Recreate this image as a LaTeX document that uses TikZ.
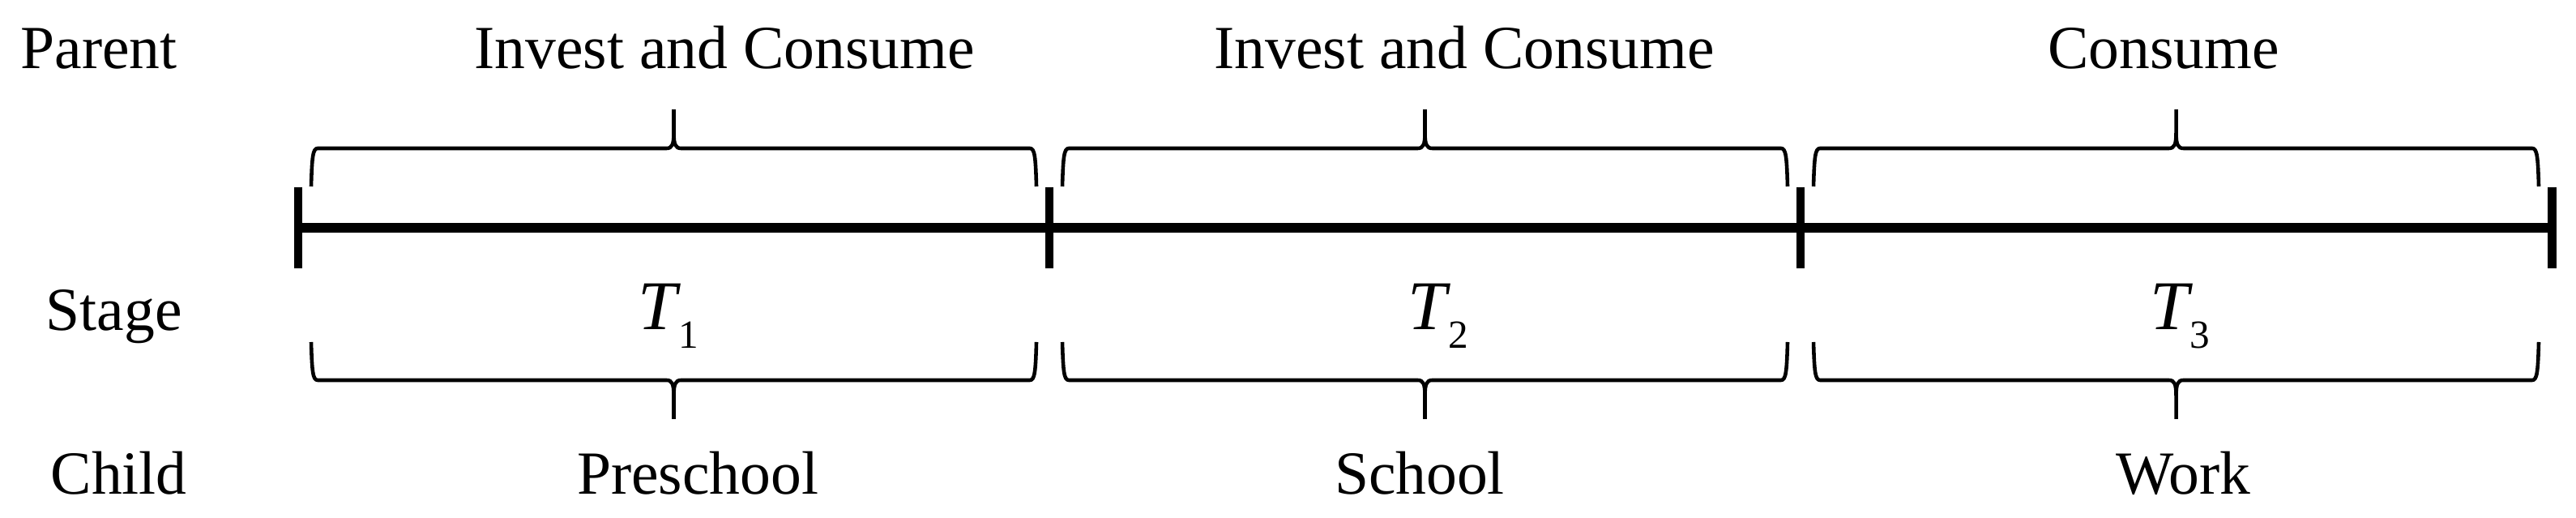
\documentclass[tikz,border=0pt]{standalone}
\usepackage{fontspec}
\setmainfont{Liberation Serif}
\usepackage{tikz}
\usetikzlibrary{positioning}
\tikzset{
  rowlabel/.style={anchor=base west,inner sep=0pt,font=\fontsize{21.5}{26}\selectfont},
  phaselabel/.style={anchor=base,inner sep=0pt,font=\fontsize{21.5}{26}\selectfont},
  stagelabel/.style={anchor=base,inner sep=0pt,font=\fontsize{24.5}{29}\selectfont},
  timeline/.style={line width=3.6pt},
  tickmark/.style={line width=3.1pt},
  bracepen/.style={line width=1.3pt,line join=round},
  phasebrace/.pic={
    \draw[bracepen] (-4.475,0) .. controls (-4.465,0.36) and (-4.455,0.47) .. (-4.395,0.47)
      -- (-0.09,0.47) .. controls (-0.02,0.47) and (0,0.52) .. (0,0.66) -- (0,0.95);
    \draw[bracepen] (4.475,0) .. controls (4.465,0.36) and (4.455,0.47) .. (4.395,0.47)
      -- (0.09,0.47) .. controls (0.02,0.47) and (0,0.52) .. (0,0.66);
  }
}
\newcommand{\stagesym}[1]{\textit{T}\kern-1pt\raisebox{-6.5pt}{\fontsize{14}{16}\selectfont #1}}

\begin{document}
\begin{tikzpicture}[x=1cm,y=1cm]
\useasboundingbox (0,0) rectangle (31.79,6.39);

% row labels
\node[rowlabel] (parent) at (0.25,5.54) {Parent};
\node[rowlabel] (stage) at (0.56,2.31) {Stage};
\node[rowlabel] (child) at (0.62,0.29) {Child};

% time axis
\coordinate (t0) at (3.68,3.58);
\coordinate (t1) at (12.95,3.58);
\coordinate (t2) at (22.22,3.58);
\coordinate (t3) at (31.49,3.58);
\draw[timeline] (t0) -- (t3);
\foreach \t in {t0,t1,t2,t3}
  \draw[tickmark] ([yshift=0.5cm]\t) -- ([yshift=-0.5cm]\t);

% braces above and below
\pic at (8.315,4.09) {phasebrace};
\pic at (17.585,4.09) {phasebrace};
\pic at (26.855,4.09) {phasebrace};
\pic[yscale=-1] at (8.315,2.17) {phasebrace};
\pic[yscale=-1] at (17.585,2.17) {phasebrace};
\pic[yscale=-1] at (26.855,2.17) {phasebrace};

\node[phaselabel] (par1) at (8.94,5.54) {Invest and Consume};
\node[phaselabel] (par2) at (18.07,5.54) {Invest and Consume};
\node[phaselabel] (par3) at (26.70,5.54) {Consume};

\node[stagelabel] (T1) at (8.25,2.32) {\stagesym{1}};
\node[stagelabel] (T2) at (17.75,2.32) {\stagesym{2}};
\node[stagelabel] (T3) at (26.90,2.32) {\stagesym{3}};

\node[phaselabel] (ch1) at (8.61,0.29) {Preschool};
\node[phaselabel] (ch2) at (17.52,0.29) {School};
\node[phaselabel] (ch3) at (26.94,0.29) {Work};
\end{tikzpicture}
\end{document}
